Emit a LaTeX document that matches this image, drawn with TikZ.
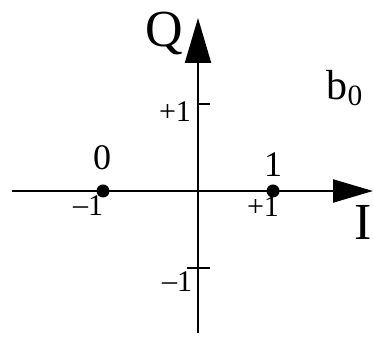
\documentclass[tikz,border=0pt]{standalone}
\usepackage{amsmath}
\usepackage{fontspec}
\setmainfont{Liberation Serif}
\usepackage{tikz}
\usetikzlibrary{arrows.meta,positioning}

\begin{document}
\begin{tikzpicture}[x=0.5pt,y=0.5pt,
    every node/.style={inner sep=0pt},
    axisline/.style={line width=1.1pt,black},
    tickline/.style={line width=0.9pt,black},
    dot/.style={circle,fill=black,minimum size=6.5pt},
    axislabel/.style={font=\fontsize{26}{30}\selectfont},
    pointlabel/.style={font=\fontsize{18}{21}\selectfont},
    ticklabel/.style={font=\fontsize{15}{18}\selectfont}
]
\useasboundingbox (0,0) rectangle (373,346);

\coordinate (ileft)  at (12,155);
\coordinate (iright) at (373,155);
\coordinate (qbot)   at (198,13);
\coordinate (qtop)   at (198,328);
\coordinate (qplus)  at (198,242);
\coordinate (qplusr) at (210,242);
\coordinate (qminl)  at (187,78);
\coordinate (qminr)  at (210,78);

% axes
\draw[axisline,-{Triangle[length=20pt,width=11.5pt]}] (ileft) -- (iright);
\draw[axisline,-{Triangle[length=22.5pt,width=13pt]}] (qbot) -- (qtop);
\draw[tickline] (qplus) -- (qplusr);
\draw[tickline] (qminl) -- (qminr);

% points
\node[dot] (zero) at (103,155) {};
\node[dot] (one)  at (273,155) {};

\node[axislabel] (qlab) at (164,312) {Q};
\node[axislabel] (ilab) at (363,124) {I};
\node[font=\fontsize{21}{24}\selectfont] (bzero) at (345,258) {b$_{\text{0}}$};

\node[pointlabel] (zerolab) at (102,188) {0};
\node[pointlabel] (onelab)  at (273,181) {1};

\node[ticklabel] (iminus) at (88,140)  {\raisebox{0.5pt}{--}1};
\node[ticklabel] (iplus)  at (263,139) {+1};
\node[ticklabel] (qpluslab)  at (175,234) {+1};
\node[ticklabel] (qminuslab) at (177,64)  {\raisebox{0.5pt}{--}1};
\end{tikzpicture}
\end{document}
